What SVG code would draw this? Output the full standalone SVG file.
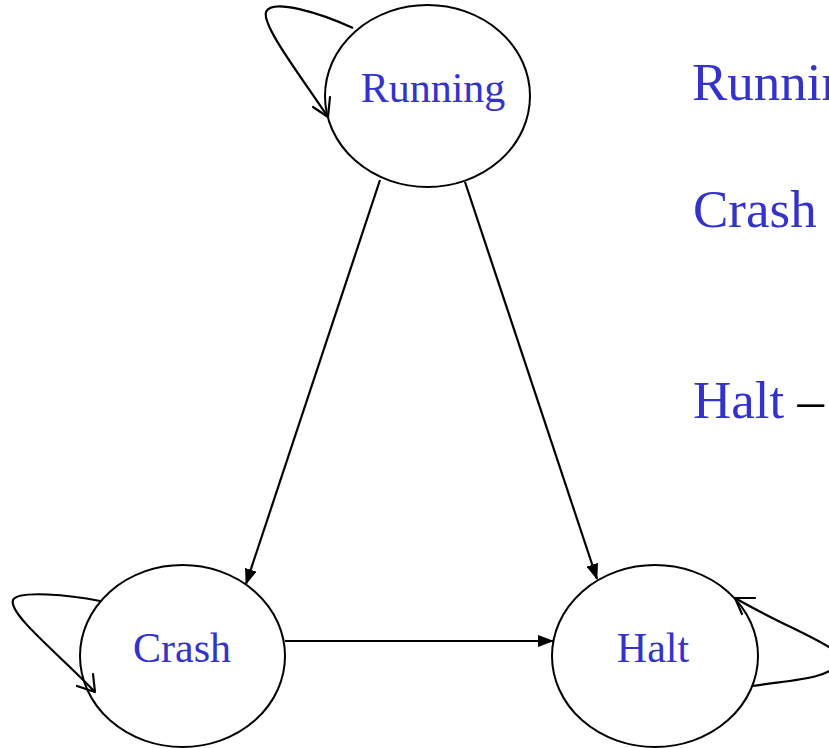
<svg xmlns="http://www.w3.org/2000/svg" width="829" height="748" viewBox="0 0 829 748">
  <style>
    .state { fill: #ffffff; stroke: #000000; stroke-width: 2; }
    .label { font-family: "Liberation Serif", "Times New Roman", serif; fill: #3333cc; text-anchor: middle; font-size: 42px; }
    .note { font-family: "Liberation Serif", "Times New Roman", serif; fill: #3333cc; font-size: 53px; }
    .edge { fill: none; stroke: #000000; stroke-width: 2.2; }
    .open { fill: none; stroke: #000000; stroke-width: 2.2; stroke-linecap: round; stroke-linejoin: round; }
  </style>
  <defs>
    <marker id="solid" markerWidth="16" markerHeight="12" refX="15" refY="6" orient="auto" markerUnits="userSpaceOnUse">
      <path d="M0,0 L16,6 L0,12 Z" fill="#000000"/>
    </marker>
  </defs>
  <rect width="829" height="748" fill="#ffffff"/>

  <g id="running">
    <ellipse class="state" cx="427.5" cy="96" rx="102.5" ry="91"/>
    <text class="label" x="433" y="102">Running</text>
  </g>
  <g id="crash">
    <ellipse class="state" cx="182.5" cy="656" rx="102.5" ry="91"/>
    <text class="label" x="182" y="662">Crash</text>
  </g>
  <g id="halt">
    <ellipse class="state" cx="655" cy="656" rx="103" ry="91"/>
    <text class="label" x="653" y="662">Halt</text>
  </g>

  <g id="connectors">
    <!-- Running -> Crash -->
    <line class="edge" x1="380" y1="180" x2="246" y2="584" marker-end="url(#solid)"/>
    <!-- Running -> Halt -->
    <line class="edge" x1="465" y1="182" x2="597" y2="579" marker-end="url(#solid)"/>
    <!-- Crash -> Halt -->
    <line class="edge" x1="285" y1="641" x2="553" y2="641" marker-end="url(#solid)"/>
    <!-- Running self loop -->
    <path class="edge" d="M353,28 C320,13 272,-2 266,12 C262,26 300,75 328,117"/>
    <path class="open" d="M313,107 L328,117 L330,97"/>
    <!-- Crash self loop -->
    <path class="edge" d="M100,601 C70,595 18,590 13,600 C8,614 60,655 95,692"/>
    <path class="open" d="M77,686 L95,692 L93,674"/>
    <!-- Halt self loop -->
    <path class="edge" d="M752,686 C790,680 828,680 840,662 C846,648 790,630 735,598"/>
    <path class="open" d="M755,598 L735,598 L742,614"/>
  </g>

  <g id="legend">
    <text class="note" x="692" y="100" font-size="54">Running</text>
    <text class="note" x="693" y="227">Crash</text>
    <text class="note" x="693" y="418">Halt <tspan fill="#000000">–</tspan></text>
  </g>
</svg>
